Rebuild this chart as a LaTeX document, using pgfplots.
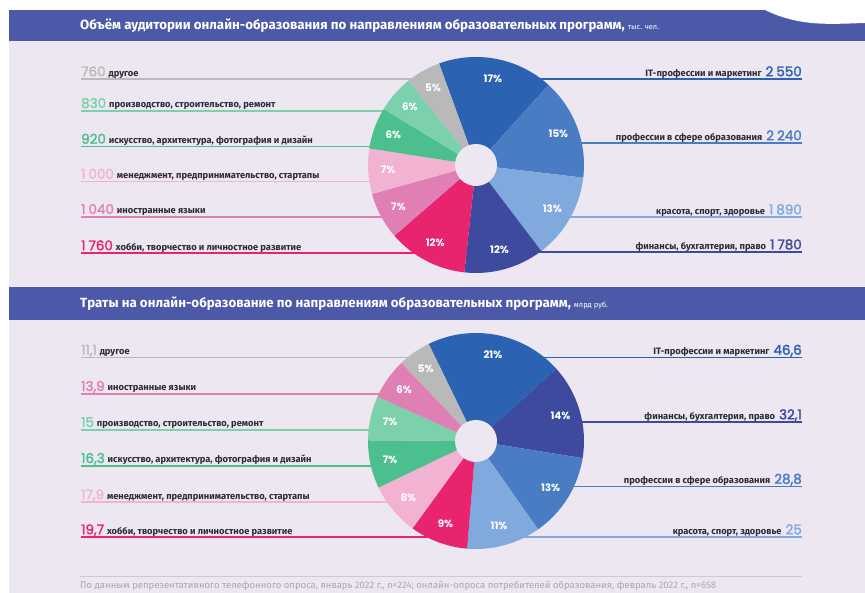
\documentclass[border=0pt]{standalone}
\usepackage{pgfplots}
\pgfplotsset{compat=1.18}
\usepackage{pgfplotstable}
\usepackage{fontspec}
\setmainfont{Fira Sans}
\newfontfamily\numfont{Poppins}[FakeBold=2]
\newfontfamily\pctfont{Poppins}

\definecolor{bg}{HTML}{EDE7F1}
\definecolor{band}{HTML}{4B59A8}
\definecolor{cIT}{HTML}{2B63B2}
\definecolor{cEdu}{HTML}{4A7CC4}
\definecolor{cBeauty}{HTML}{80AADD}
\definecolor{cFin}{HTML}{3E4A9E}
\definecolor{cHobby}{HTML}{E8246E}
\definecolor{cLang}{HTML}{E07FB4}
\definecolor{cMgmt}{HTML}{F2B3D2}
\definecolor{cArt}{HTML}{4CBF8E}
\definecolor{cProd}{HTML}{7DD0AC}
\definecolor{cOther}{HTML}{B9B9B9}
\definecolor{txt}{HTML}{2A2A35}
\definecolor{foot}{HTML}{A9A6B2}

% audience, thousand people (clockwise from the top)
\pgfplotstableread{
val  pct col
2550 17  cIT
2240 15  cEdu
1890 13  cBeauty
1780 12  cFin
1760 12  cHobby
1040 7   cLang
1000 7   cMgmt
920  6   cArt
830  6   cProd
760  5   cOther
}\audience

% spending, bn rub
\pgfplotstableread{
val  pct col
46.6 21  cIT
32.1 14  cFin
28.8 13  cEdu
25.0 11  cBeauty
19.7 9   cHobby
17.9 8   cMgmt
16.3 7   cArt
15.0 7   cProd
13.9 6   cLang
11.1 5   cOther
}\spending

% #1 table, #2 cx, #3 cy, #4 start angle
\newcommand\donut[4]{%
  \pgfplotstablegetrowsof{#1}\pgfmathtruncatemacro\nrows{\pgfplotsretval-1}%
  \def\tot{0}%
  \pgfplotsforeachungrouped \i in {0,...,\nrows}{%
    \pgfplotstablegetelem{\i}{val}\of{#1}%
    \pgfmathsetmacro\tot{\tot+\pgfplotsretval}}%
  \def\ang{#4}%
  \pgfplotsforeachungrouped \i in {0,...,\nrows}{%
    \pgfplotstablegetelem{\i}{val}\of{#1}\let\sval\pgfplotsretval
    \pgfplotstablegetelem{\i}{col}\of{#1}\let\scol\pgfplotsretval
    \pgfmathsetmacro\angb{\ang-360*(\sval/\tot)}%
    \edef\cmd{\noexpand\fill[\scol] (axis cs:#2,#3) -- ++(\ang:108pt)
      arc[start angle=\ang, end angle=\angb, radius=108pt] -- cycle;}\cmd
    \let\ang\angb}%
  \fill[bg] (axis cs:#2,#3) circle[radius=21pt];
  \def\ang{#4}%
  \pgfplotsforeachungrouped \i in {0,...,\nrows}{%
    \pgfplotstablegetelem{\i}{val}\of{#1}\let\sval\pgfplotsretval
    \pgfplotstablegetelem{\i}{pct}\of{#1}\let\spct\pgfplotsretval
    \pgfmathsetmacro\angb{\ang-360*(\sval/\tot)}%
    \pgfmathsetmacro\angm{(\ang+\angb)/2}%
    \edef\cmd{\noexpand\path (axis cs:#2,#3) ++(\angm:88pt)
      node[pctlab] {\spct\noexpand\%};}\cmd
    \let\ang\angb}%
}

\tikzset{
  pctlab/.style={text=white, font=\pctfont\bfseries\fontsize{10.3}{10}\selectfont, inner sep=0pt},
}
\newcommand\numstyle{\numfont\fontsize{13.5}{13.5}\selectfont}
\newcommand\lblstyle{\bfseries\fontsize{9.3}{10}\selectfont\color{txt}}
\newcommand\ts{\hspace{3pt}}

% #1 y of line, #2 colour, #3 number, #4 text
\newcommand\lrow[4]{%
  \draw[#2, line width=1.6pt] (axis cs:81,#1) -- (axis cs:476,#1);
  \node[anchor=base west, inner sep=0pt] at (axis cs:81,#1+3)
    {{\numstyle\color{#2}#3}\hspace{3pt}{\lblstyle #4}};}
\newcommand\rrow[4]{%
  \draw[#2, line width=1.6pt] (axis cs:476,#1) -- (axis cs:802,#1);
  \node[anchor=base east, inner sep=0pt] at (axis cs:802,#1+3)
    {{\lblstyle #4}\hspace{4pt}{\numstyle\color{#2}#3}};}

\begin{document}
\begin{tikzpicture}
\begin{axis}[
    width=865pt, height=593pt, scale only axis,
    xmin=0, xmax=865, ymin=0, ymax=593,
    hide axis, clip=false,
]
\fill[white] (axis cs:0,0) rectangle (axis cs:865,593);
\fill[bg] (axis cs:9,0) rectangle (axis cs:865,583);

% header bands
\fill[band] (axis cs:9,552) rectangle (axis cs:865,583);
\fill[white] (axis cs:765,593) -- (axis cs:765,583)
  .. controls (axis cs:800,566) and (axis cs:830,569) .. (axis cs:865,570)
  -- (axis cs:865,593) -- cycle;
\fill[band] (axis cs:9,273) rectangle (axis cs:865,306);

\node[anchor=base west, inner sep=0pt, text=white, font=\bfseries\fontsize{13.3}{14}\selectfont]
  at (axis cs:80,563) {Объём аудитории онлайн-образования по направлениям образовательных программ,\hspace{3pt}{\mdseries\fontsize{7.5}{8}\selectfont тыс. чел.}};
\node[anchor=base west, inner sep=0pt, text=white, font=\bfseries\fontsize{13.3}{14}\selectfont]
  at (axis cs:80,285) {Траты на онлайн-образование по направлениям образовательных программ,\hspace{3pt}{\mdseries\fontsize{7.5}{8}\selectfont млрд руб.}};

% first chart: labels
\lrow{513.7}{cOther}{760}{другое}
\lrow{482}{cProd}{830}{производство, строительство, ремонт}
\lrow{446.3}{cArt}{920}{искусство, архитектура, фотография и дизайн}
\lrow{411.3}{cMgmt}{1\ts000}{менеджмент, предпринимательство, стартапы}
\lrow{376}{cLang}{1\ts040}{иностранные языки}
\lrow{339.7}{cHobby}{1\ts760}{хобби, творчество и личностное развитие}
\rrow{513.7}{cIT}{2\ts550}{IT-профессии и маркетинг}
\rrow{449.7}{cEdu}{2\ts240}{профессии в сфере образования}
\rrow{375.7}{cBeauty}{1\ts890}{красота, спорт, здоровье}
\rrow{340.7}{cFin}{1\ts780}{финансы, бухгалтерия, право}
\donut{\audience}{476}{428}{110}

% second chart: labels
\lrow{235.3}{cOther}{11,1}{другое}
\lrow{199}{cLang}{13,9}{иностранные языки}
\lrow{163}{cProd}{15}{производство, строительство, ремонт}
\lrow{127}{cArt}{16,3}{искусство, архитектура, фотография и дизайн}
\lrow{90.7}{cMgmt}{17,9}{менеджмент, предпринимательство, стартапы}
\lrow{55.7}{cHobby}{19,7}{хобби, творчество и личностное развитие}
\rrow{235.3}{cIT}{46,6}{IT-профессии и маркетинг}
\rrow{170.7}{cFin}{32,1}{финансы, бухгалтерия, право}
\rrow{106.3}{cEdu}{28,8}{профессии в сфере образования}
\rrow{55.7}{cBeauty}{25}{красота, спорт, здоровье}
\donut{\spending}{476}{152}{116}

% footnote
\draw[foot!60, line width=0.6pt] (axis cs:80,17) -- (axis cs:802,17);
\node[anchor=base west, inner sep=0pt, text=foot, font=\fontsize{9.5}{10}\selectfont]
  at (axis cs:80,4) {По данным репрезентативного телефонного опроса, январь 2022~г., n=224; онлайн-опроса потребителей образования, февраль 2022~г., n=658};
\end{axis}
\end{tikzpicture}
\end{document}
